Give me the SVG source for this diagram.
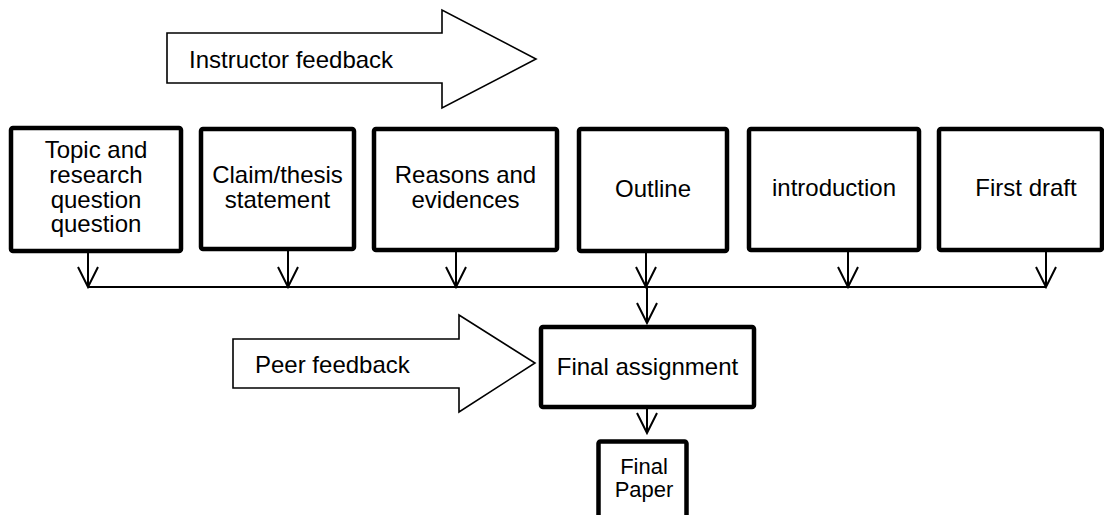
<svg xmlns="http://www.w3.org/2000/svg" width="1104" height="515" viewBox="0 0 1104 515">
<style>
.box{fill:#fff;stroke:#000;stroke-width:4.5;stroke-linejoin:round}
.blk{fill:#fff;stroke:#000;stroke-width:1.6;stroke-linejoin:miter}
.t{font-family:"Liberation Sans",Arial,sans-serif;font-size:24px;fill:#000}
.s{font-size:22px}
.c{text-anchor:middle}
.ln{fill:none;stroke:#000;stroke-width:2}
</style>
<defs>
<marker id="ah" markerWidth="24" markerHeight="24" viewBox="-22 -12 24 24" refX="0" refY="0" markerUnits="userSpaceOnUse" orient="auto">
<path d="M-20,-10 L0,0 L-20,10" fill="none" stroke="#000" stroke-width="2"/>
</marker>
</defs>
<rect width="1104" height="515" fill="#fff"/>
<g id="instructor-feedback">
<polygon class="blk" points="167,33 442,33 442,10 536,59 442,108 442,83 167,83"/>
<text class="t" x="189" y="68">Instructor feedback</text>
</g>
<g id="topic">
<rect class="box" x="11" y="128" width="170" height="123" rx="2"/>
<text class="t c" x="96" y="158">Topic and</text>
<text class="t c" x="96" y="183">research</text>
<text class="t c" x="96" y="207.5">question</text>
<text class="t c" x="96" y="232">question</text>
</g>
<g id="claim">
<rect class="box" x="201" y="129" width="153" height="120" rx="2"/>
<text class="t c" x="277.5" y="183">Claim/thesis</text>
<text class="t c" x="277.5" y="208">statement</text>
</g>
<g id="reasons">
<rect class="box" x="374" y="129" width="183" height="121" rx="2"/>
<text class="t c" x="465.5" y="183">Reasons and</text>
<text class="t c" x="465.5" y="208">evidences</text>
</g>
<g id="outline">
<rect class="box" x="579" y="129" width="148" height="122" rx="2"/>
<text class="t c" x="653" y="197">Outline</text>
</g>
<g id="introduction">
<rect class="box" x="749" y="129" width="170" height="121" rx="2"/>
<text class="t c" x="834" y="196">introduction</text>
</g>
<g id="first-draft">
<rect class="box" x="939" y="129" width="163" height="121" rx="2"/>
<text class="t c" x="1026" y="196">First draft</text>
</g>
<g id="connectors">
<line class="ln" x1="88" y1="253" x2="88" y2="287" marker-end="url(#ah)"/>
<line class="ln" x1="288" y1="251" x2="288" y2="287" marker-end="url(#ah)"/>
<line class="ln" x1="456" y1="252" x2="456" y2="287" marker-end="url(#ah)"/>
<line class="ln" x1="646" y1="253" x2="646" y2="287" marker-end="url(#ah)"/>
<line class="ln" x1="848" y1="252" x2="848" y2="287" marker-end="url(#ah)"/>
<line class="ln" x1="1046" y1="252" x2="1046" y2="287" marker-end="url(#ah)"/>
<line class="ln" x1="88" y1="287" x2="1046" y2="287"/>
<line class="ln" x1="647" y1="287" x2="647" y2="323" marker-end="url(#ah)"/>
<line class="ln" x1="647" y1="409" x2="647" y2="433" marker-end="url(#ah)"/>
</g>
<g id="peer-feedback">
<polygon class="blk" points="233,339 459,339 459,315 535,363 459,412 459,388 233,388"/>
<text class="t" x="255" y="373">Peer feedback</text>
</g>
<g id="final-assignment">
<rect class="box" x="541" y="327" width="213" height="80" rx="2"/>
<text class="t c" x="647.5" y="375">Final assignment</text>
</g>
<g id="final-paper">
<rect class="box" x="598.5" y="441.5" width="88" height="90" rx="2"/>
<text class="t s c" x="644" y="474">Final</text>
<text class="t s c" x="644" y="497">Paper</text>
</g>
</svg>
